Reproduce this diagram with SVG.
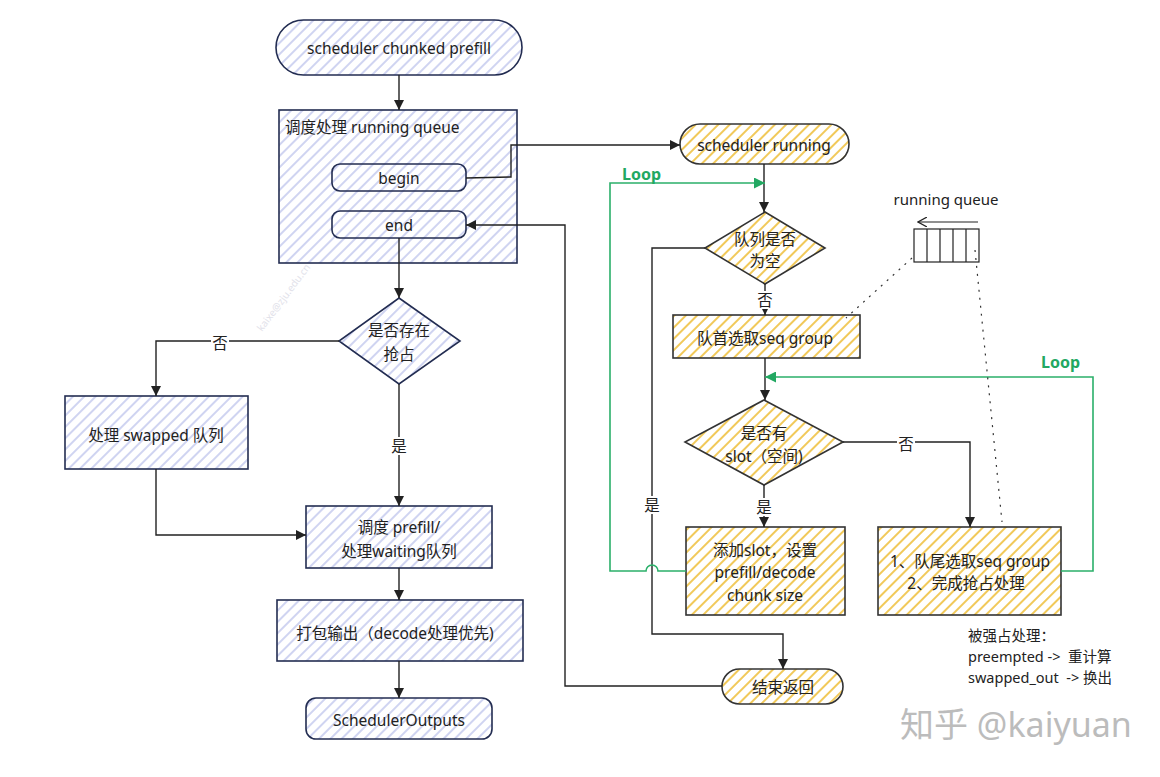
<svg xmlns="http://www.w3.org/2000/svg" width="1160" height="777" viewBox="0 0 1160 777">
<defs>
<pattern id="hb" width="8" height="8" patternUnits="userSpaceOnUse" patternTransform="rotate(45)">
<rect width="8" height="8" fill="#fff"/>
<line x1="4" y1="0" x2="4" y2="8" stroke="#c4caee" stroke-width="1.6"/>
</pattern>
<pattern id="hy" width="8" height="8" patternUnits="userSpaceOnUse" patternTransform="rotate(45)">
<rect width="8" height="8" fill="#fff"/>
<line x1="4" y1="0" x2="4" y2="8" stroke="#f1c95a" stroke-width="2"/>
</pattern>
<marker id="ab" viewBox="0 0 10 10" refX="10" refY="5" markerWidth="10" markerHeight="10" markerUnits="userSpaceOnUse" orient="auto">
<path d="M0,0 L10,5 L0,10 Z" fill="#222"/>
</marker>
<marker id="ag" viewBox="0 0 10 10" refX="10" refY="5" markerWidth="11" markerHeight="11" markerUnits="userSpaceOnUse" orient="auto">
<path d="M0,0 L10,5 L0,10 Z" fill="#22a862"/>
</marker>
<marker id="ao" viewBox="0 0 10 10" refX="9" refY="5" markerWidth="10" markerHeight="10" markerUnits="userSpaceOnUse" orient="auto">
<path d="M0,0 L9,5 L0,10" fill="none" stroke="#222" stroke-width="1.2"/>
</marker>
</defs>
<style>
text{font-family:"Noto Sans","Noto Sans CJK SC",sans-serif;font-size:15.5px;fill:#222}
.c{text-anchor:middle}
.pre{white-space:pre}
.nb{fill:url(#hb);stroke:#232d52;stroke-width:1.6}
.ny{fill:url(#hy);stroke:#333;stroke-width:1.6}
.e{fill:none;stroke:#222;stroke-width:1.4}
.g{fill:none;stroke:#2bb06a;stroke-width:1.6}
.loop{font-weight:bold;fill:#22a862;font-size:16px}
.lb{fill:#fff}
.dot{fill:none;stroke:#333;stroke-width:1.2;stroke-dasharray:2,6}
</style>

<text x="262" y="332" transform="rotate(-53 262 332)" style="font-size:10px;fill:#e2e2ea">kaixe@zju.edu.cn</text>

<g id="n-start"><rect class="nb" x="276" y="20" width="246" height="55" rx="27.5"/><text class="c" x="399" y="54">scheduler chunked prefill</text></g>
<g id="n-container"><rect class="nb" x="279" y="110" width="238" height="153"/><text x="285" y="133">调度处理 running queue</text></g>
<g id="n-begin"><rect class="nb" x="332" y="164" width="134" height="27" rx="8"/><text class="c" x="399" y="184">begin</text></g>
<g id="n-end"><rect class="nb" x="332" y="211" width="134" height="27" rx="8"/><text class="c" x="399" y="231">end</text></g>
<g id="n-preempt"><path class="nb" d="M399,298 L460,341 L399,384 L339,341 Z"/><text class="c" x="399" y="336">是否存在</text><text class="c" x="399" y="360">抢占</text></g>
<g id="n-swapped"><rect class="nb" x="65" y="396" width="183" height="73"/><text class="c" x="156" y="441">处理 swapped 队列</text></g>
<g id="n-prefill"><rect class="nb" x="306" y="506" width="186" height="62"/><text class="c" x="399" y="533">调度 prefill/</text><text class="c" x="399" y="557">处理waiting队列</text></g>
<g id="n-pack"><rect class="nb" x="277" y="600" width="246" height="61"/><text class="c" x="395" y="639">打包输出（decode处理优先)</text></g>
<g id="n-outputs"><rect class="nb" x="306" y="698" width="186" height="41" rx="10"/><text class="c" x="399" y="726">SchedulerOutputs</text></g>

<g id="n-running"><rect class="ny" x="680" y="124" width="169" height="40" rx="20"/><text class="c" x="764" y="151">scheduler running</text></g>
<g id="n-empty"><path class="ny" d="M765,212 L825,248 L765,284 L705,248 Z"/><text class="c" x="765" y="245">队列是否</text><text class="c" x="765" y="267">为空</text></g>
<g id="n-head"><rect class="ny" x="673" y="315" width="187" height="43"/><text class="c" x="765" y="344">队首选取seq group</text></g>
<g id="n-slot"><path class="ny" d="M764,400 L843,442 L764,485 L685,442 Z"/><text class="c" x="764" y="439">是否有</text><text class="c" x="764" y="462">slot（空间)</text></g>
<g id="n-add"><rect class="ny" x="686" y="527" width="159" height="88"/><text class="c" x="765" y="556">添加slot，设置</text><text class="c" x="765" y="578">prefill/decode</text><text class="c" x="765" y="601">chunk size</text></g>
<g id="n-tail"><rect class="ny" x="878" y="527" width="183" height="88"/><text class="c" x="970" y="567">1、队尾选取seq group</text><text class="c" x="966" y="589">2、完成抢占处理</text></g>
<g id="n-return"><rect class="ny" x="722" y="669" width="121" height="35" rx="17.5"/><text class="c" x="783" y="693">结束返回</text></g>

<g id="n-queue">
<text class="c" x="946" y="205" style="font-size:15px">running queue</text>
<line x1="978" y1="222" x2="918" y2="222" stroke="#222" stroke-width="1.2" marker-end="url(#ao)"/>
<rect x="914" y="229" width="65" height="33" fill="#fff" stroke="#222" stroke-width="1.2"/>
<path d="M927,229 V262 M940,229 V262 M953,229 V262 M966,229 V262" stroke="#222" stroke-width="1.2"/>
</g>

<g id="n-note">
<text x="968" y="641" style="font-size:14.5px">被强占处理：</text>
<text class="pre" x="968" y="662" style="font-size:14.5px">preempted -&gt;  重计算</text>
<text class="pre" x="968" y="683" style="font-size:14.5px">swapped_out  -&gt; 换出</text>
</g>

<g id="connectors">
<path class="e" d="M399,75 V110" marker-end="url(#ab)"/>
<path class="e" d="M466,178 L511,177 V145 H680" marker-end="url(#ab)"/>
<path class="e" d="M722,686 H565 V225 H466" marker-end="url(#ab)"/>
<path class="e" d="M399,238 V298" marker-end="url(#ab)"/>
<path class="e" d="M339,341 H156 V396" marker-end="url(#ab)"/>
<path class="e" d="M399,384 V506" marker-end="url(#ab)"/>
<path class="e" d="M156,469 V535 H306" marker-end="url(#ab)"/>
<path class="e" d="M399,568 V600" marker-end="url(#ab)"/>
<path class="e" d="M399,661 V698" marker-end="url(#ab)"/>

<path class="e" d="M764,164 V212" marker-end="url(#ab)"/>
<path class="e" d="M705,248 H652 V634 H783 V669" marker-end="url(#ab)"/>
<path class="e" d="M765,284 V315" marker-end="url(#ab)"/>
<path class="e" d="M765,358 V400" marker-end="url(#ab)"/>
<path class="e" d="M764,485 V527" marker-end="url(#ab)"/>
<path class="e" d="M843,442 H970 V527" marker-end="url(#ab)"/>

<path class="g" d="M686,571 H658 A6,6 0 0 0 646,571 H610 V183 H765" marker-end="url(#ag)"/>
<path class="g" d="M1061,571 H1093 V377 H765" marker-end="url(#ag)"/>

<path class="dot" d="M912,258 L846,318"/>
<path class="dot" d="M975,250 L1002,522"/>

<rect class="lb" x="211" y="333" width="18" height="18"/><text class="c" x="220" y="349">否</text>
<rect class="lb" x="390" y="437" width="18" height="18"/><text class="c" x="399" y="452">是</text>
<rect class="lb" x="643" y="496" width="18" height="18"/><text class="c" x="652" y="511">是</text>
<rect class="lb" x="756" y="291" width="18" height="18"/><text class="c" x="765" y="306">否</text>
<rect class="lb" x="755" y="498" width="18" height="18"/><text class="c" x="764" y="513">是</text>
<rect class="lb" x="897" y="435" width="18" height="18"/><text class="c" x="906" y="450">否</text>

<text class="loop" x="622" y="180">Loop</text>
<text class="loop" x="1041" y="368">Loop</text>
</g>

<text x="900" y="737" style="font-size:34px;fill:#bcbcbc">知乎 @kaiyuan</text>
</svg>
